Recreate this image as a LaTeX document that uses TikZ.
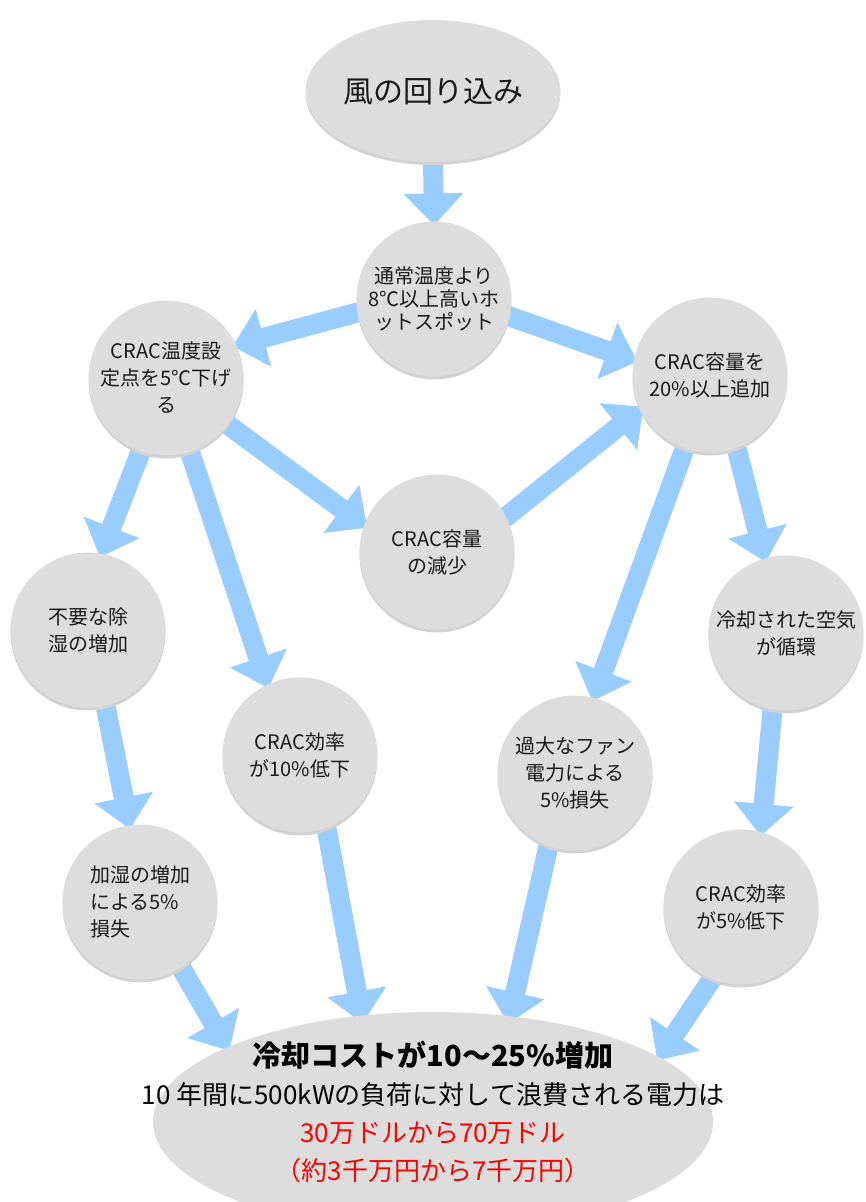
\documentclass[tikz,border=0pt]{standalone}
\usepackage{fontspec}
\setmainfont{Noto Sans CJK JP}
\usetikzlibrary{shapes.geometric,arrows.meta,backgrounds,shadows}
\definecolor{arrowblue}{HTML}{99CCFF}
\definecolor{nodegray}{HTML}{DDDDDD}
\definecolor{shadowgray}{HTML}{D2D2D2}
\definecolor{costred}{HTML}{FF0000}
\begin{document}
\begin{tikzpicture}[x=1pt,y=-1pt,
  bubble/.style={circle, fill=nodegray, minimum size=155pt, inner sep=0pt, align=center,
    font=\fontsize{20}{27}\selectfont, text=black!90,
    drop shadow={shadow xshift=0pt, shadow yshift=-3pt, fill=shadowgray, opacity=1}},
  flow/.style={draw=arrowblue, line width=20pt, -{Triangle[width=58pt,length=32pt]},
    shorten <=-12pt, shorten >=-4pt},
]
\useasboundingbox (0,0) rectangle (865,1202);

\node[ellipse, fill=nodegray, minimum width=250pt, minimum height=142pt, inner sep=0pt,
  font=\fontsize{30}{34}\selectfont, text=black!90,
  drop shadow={shadow xshift=0pt, shadow yshift=-3pt, fill=shadowgray, opacity=1}]
  (top) at (433,91) {風の回り込み};

\node[bubble, font=\fontsize{20}{23}\selectfont] (hot) at (434,299) {通常温度より\\8℃以上高いホ\\ットスポット};
\node[bubble] (crac1) at (166,378) {CRAC温度設\\定点を5℃下げ\\る};
\node[bubble] (crac2) at (710,375) {CRAC容量を\\20\%以上追加};
\node[bubble] (dec) at (437,552) {CRAC容量\\の減少};
\node[bubble] (dehum) at (88,630) {不要な除\\湿の増加};
\node[bubble] (eff10) at (300,755) {CRAC効率\\が10\%低下};
\node[bubble] (fan) at (575,773) {過大なファン\\電力による\\5\%損失};
\node[bubble] (cool) at (786,633) {冷却された空気\\が循環};
\node[bubble, align=left] (hum) at (140,902) {加湿の増加\\による5\%\\損失};
\node[bubble] (eff5) at (741,907) {CRAC効率\\が5\%低下};

\node[ellipse, fill=nodegray, minimum width=560pt, minimum height=220pt, inner sep=0pt] (bot) at (433,1122) {};
\node[align=center, font=\fontsize{26}{38}\selectfont, inner sep=0pt] (bottxt) at (433,1112)
  {{\fontsize{29}{38}\selectfont\bfseries 冷却コストが10～25\%増加}\\
   10 年間に500kWの負荷に対して浪費される電力は\\
   \textcolor{costred}{30万ドルから70万ドル}\\
   \textcolor{costred}{（約3千万円から7千万円）}};

\begin{scope}[on background layer]
\draw[flow] (top.south) -- (hot.north);
\draw[flow] (hot.190) -- (crac1.25);
\draw[flow] (hot.-13) -- (crac2.169);
\draw[flow] (crac1.-37) -- (dec.160);
\draw[flow] (dec.27) -- (crac2.206);
\draw[flow] (crac1.-109) -- (dehum.80);
\draw[flow] (crac1.-72) -- (eff10.115);
\draw[flow] (crac2.-109) -- (fan.76);
\draw[flow] (crac2.-70) -- (cool.106);
\draw[flow] (dehum.-77) -- (hum.98);
\draw[flow] (cool.-100) -- (eff5.75);
\draw[flow] (hum.-58) -- (bot.160);
\draw[flow, shorten >=-8pt] (eff10.-70) -- (bot.124);
\draw[flow, shorten >=-8pt] (fan.-110) -- (bot.54);
\draw[flow] (eff5.-112) -- (bot.16);
\end{scope}
\end{tikzpicture}
\end{document}
